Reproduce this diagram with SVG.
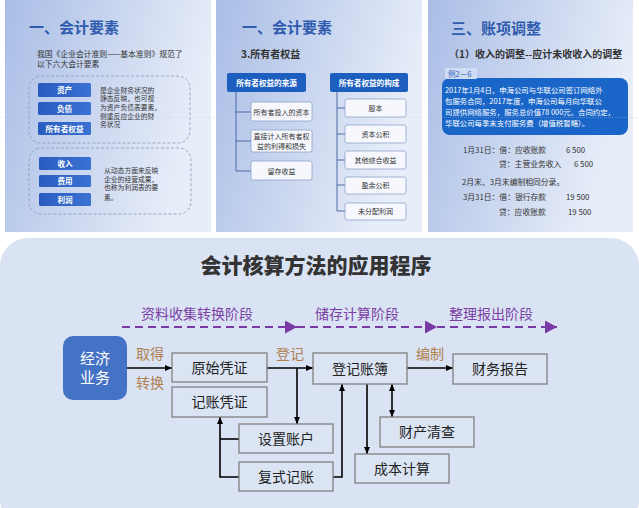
<svg xmlns="http://www.w3.org/2000/svg" width="639" height="508" viewBox="0 0 639 508">
<defs>
<linearGradient id="pg" x1="0" y1="0" x2="1" y2="0.3">
<stop offset="0" stop-color="#a9bde6"/>
<stop offset="0.55" stop-color="#ccd8f0"/>
<stop offset="1" stop-color="#e8eef9"/>
</linearGradient>
<linearGradient id="bg" x1="0" y1="0" x2="1" y2="0">
<stop offset="0" stop-color="#2a5cc0"/>
<stop offset="1" stop-color="#3a72d2"/>
</linearGradient>
<marker id="pa" markerUnits="userSpaceOnUse" markerWidth="13" markerHeight="13" refX="12" refY="6.5" orient="auto">
<path d="M0,0 L12,6.5 L0,13 z" fill="#7a3aa6"/>
</marker>
<marker id="ba" markerUnits="userSpaceOnUse" markerWidth="7" markerHeight="6" refX="7" refY="3" orient="auto-start-reverse">
<path d="M0,0 L7,3 L0,6 z" fill="#000"/>
</marker>
</defs>
<style>
.ptitle{font-family:"Noto Sans CJK SC","Noto Sans",sans-serif;font-weight:700;font-size:15px;fill:#2f5cae}
.sm{font-family:"Noto Sans CJK SC","Noto Sans",sans-serif;font-size:7.8px;fill:#333}
.sd{font-family:"Noto Sans CJK SC","Noto Sans",sans-serif;font-size:6.8px;fill:#333}
.smw{font-family:"Noto Sans CJK SC","Noto Sans",sans-serif;font-size:7.4px;fill:#fff}
.btn{font-family:"Noto Sans CJK SC","Noto Sans",sans-serif;font-size:7.6px;font-weight:700;fill:#fff}
.dash{fill:none;stroke:#8898bc;stroke-width:0.8;stroke-dasharray:3 2}
.hdr{fill:#1c5fbf}
.child{fill:#f6f8fd;stroke:#8ea2c8;stroke-width:0.8}
.ct{font-family:"Noto Sans CJK SC","Noto Sans",sans-serif;font-size:7px;fill:#333}
.tree{fill:none;stroke:#3d5f9a;stroke-width:0.9}
.stage{font-family:"Noto Sans CJK SC","Noto Sans",sans-serif;font-size:14px;fill:#7b3fa4}
.pd{fill:none;stroke:#7a3aa6;stroke-width:2;stroke-dasharray:8 5}
.box{fill:#dbe4f3;stroke:#808080;stroke-width:1.3}
.bt{font-family:"Noto Sans CJK SC","Noto Sans",sans-serif;font-size:14px;fill:#222}
.lbl{font-family:"Noto Sans CJK SC","Noto Sans",sans-serif;font-size:14px;fill:#b0804f}
.con{fill:none;stroke:#000;stroke-width:1.6}
</style>
<rect width="639" height="508" fill="#fff"/>

<!-- top panels -->
<g id="panel-left">
<rect x="5" y="0" width="206" height="232" fill="url(#pg)"/>
<text class="ptitle" x="29" y="33">一、会计要素</text>
<text class="sm" x="37" y="57">我国《企业会计准则——基本准则》规范了<tspan x="37" dy="9.5">以下六大会计要素</tspan></text>
<rect class="dash" x="29" y="76" width="161" height="67" rx="12"/>
<rect x="38" y="83" width="53" height="14" rx="1.5" fill="url(#bg)"/>
<text class="btn" x="64.5" y="93" text-anchor="middle">资产</text>
<rect x="38" y="102" width="53" height="13" rx="1.5" fill="url(#bg)"/>
<text class="btn" x="64.5" y="111.5" text-anchor="middle">负债</text>
<rect x="38" y="122" width="53" height="13" rx="1.5" fill="url(#bg)"/>
<text class="btn" x="64.5" y="131.5" text-anchor="middle">所有者权益</text>
<text class="sd" x="100" y="92.5">是企业财务状况的<tspan x="100" dy="8.7">静态反映，也可视</tspan><tspan x="100" dy="8.7">为资产负债表要素，</tspan><tspan x="100" dy="8.7">侧重反应企业的财</tspan><tspan x="100" dy="8.7">务状况</tspan></text>
<rect class="dash" x="29" y="148" width="162" height="66" rx="12"/>
<rect x="39" y="157" width="52" height="13" rx="1.5" fill="url(#bg)"/>
<text class="btn" x="65" y="166.5" text-anchor="middle">收入</text>
<rect x="39" y="175" width="52" height="12" rx="1.5" fill="url(#bg)"/>
<text class="btn" x="65" y="184" text-anchor="middle">费用</text>
<rect x="39" y="193" width="52" height="13" rx="1.5" fill="url(#bg)"/>
<text class="btn" x="65" y="202.5" text-anchor="middle">利润</text>
<text class="sd" x="104" y="173">从动态方面来反映<tspan x="104" dy="8.6">企业的经营成果，</tspan><tspan x="104" dy="8.6">也称为利润表的要</tspan><tspan x="104" dy="9.4">素。</tspan></text>
</g>

<g id="panel-middle">
<rect x="216" y="0" width="206" height="232" fill="url(#pg)"/>
<text class="ptitle" x="242" y="33">一、会计要素</text>
<text x="241" y="58" style="font-family:'Noto Sans CJK SC',sans-serif;font-size:10px;font-weight:700;fill:#333">3.所有者权益</text>
<rect class="hdr" x="227" y="73" width="79" height="19" rx="2"/>
<text class="btn" x="266.5" y="85.5" text-anchor="middle">所有者权益的来源</text>
<rect class="hdr" x="330" y="73" width="78" height="19" rx="2"/>
<text class="btn" x="369" y="85.5" text-anchor="middle">所有者权益的构成</text>
<path class="tree" d="M236,92 V171 M236,112 H251 M236,141 H251 M236,171 H251"/>
<path class="tree" d="M337,92 V211 M337,108 H345 M337,134 H345 M337,160 H345 M337,185 H345 M337,211 H345"/>
<rect class="child" x="251" y="102" width="61" height="19" rx="2"/>
<text class="ct" x="281.5" y="114.5" text-anchor="middle">所有者投入的资本</text>
<rect class="child" x="251" y="130" width="61" height="22" rx="2"/>
<text class="ct" x="281.5" y="139" text-anchor="middle">直接计入所有者权<tspan x="281.5" dy="10">益的利得和损失</tspan></text>
<rect class="child" x="251" y="161" width="61" height="19" rx="2"/>
<text class="ct" x="281.5" y="173.5" text-anchor="middle">留存收益</text>
<rect class="child" x="345" y="99" width="61" height="18" rx="2"/>
<text class="ct" x="375.5" y="110.5" text-anchor="middle">股本</text>
<rect class="child" x="345" y="125" width="61" height="18" rx="2"/>
<text class="ct" x="375.5" y="136.5" text-anchor="middle">资本公积</text>
<rect class="child" x="345" y="151" width="61" height="18" rx="2"/>
<text class="ct" x="375.5" y="162.5" text-anchor="middle">其他综合收益</text>
<rect class="child" x="345" y="177" width="61" height="17" rx="2"/>
<text class="ct" x="375.5" y="188" text-anchor="middle">盈余公积</text>
<rect class="child" x="345" y="203" width="61" height="17" rx="2"/>
<text class="ct" x="375.5" y="214" text-anchor="middle">未分配利润</text>
</g>

<g id="panel-right">
<rect x="428" y="0" width="205" height="232" fill="url(#pg)"/>
<text class="ptitle" x="451" y="34">三、账项调整</text>
<text x="449" y="58" style="font-family:'Noto Sans CJK SC',sans-serif;font-size:10px;font-weight:700;fill:#333">（1）收入的调整--应计未收收入的调整</text>
<rect x="442" y="78" width="186" height="57" rx="8" fill="#1a66c8"/>
<rect x="445" y="68" width="32" height="11" rx="1" fill="#cfdcf3"/>
<text x="448" y="76.5" style="font-family:'Noto Sans CJK SC',sans-serif;font-size:7.5px;fill:#2a62c0">例2－6</text>
<text class="smw" x="445" y="93">2017年1月4日，申海公司与华联公司签订网络外<tspan x="445" dy="11">包服务合同，2017年度，申海公司每月向华联公</tspan><tspan x="445" dy="11">司提供网络服务，服务总价值78 000元。合同约定，</tspan><tspan x="445" dy="11">华联公司每季末支付服务费（增值税暂略）。</tspan></text>
<text class="sm" x="463" y="153">1月31日：借：应收账款</text>
<text class="sm" x="566" y="153">6 500</text>
<text class="sm" x="499" y="167">贷：主营业务收入</text>
<text class="sm" x="574" y="167">6 500</text>
<text class="sm" x="462" y="185">2月末、3月末编制相同分录。</text>
<text class="sm" x="463" y="200">3月31日：借：银行存款</text>
<text class="sm" x="566" y="200">19 500</text>
<text class="sm" x="499" y="215">贷：应收账款</text>
<text class="sm" x="568" y="215">19 500</text>
</g>
<line x1="0" y1="117.5" x2="639" y2="117.5" stroke="#c4c8d4" stroke-width="0.6" stroke-dasharray="1 1" opacity="0.6"/>

<!-- bottom panel -->
<rect x="0" y="238" width="639" height="290" rx="28" fill="#d9e3f3"/>
<text x="316" y="273" text-anchor="middle" style="font-family:'Noto Sans CJK SC',sans-serif;font-size:21px;font-weight:900;fill:#333">会计核算方法的应用程序</text>

<g id="stages">
<text class="stage" x="197" y="319" text-anchor="middle">资料收集转换阶段</text>
<text class="stage" x="357" y="319" text-anchor="middle">储存计算阶段</text>
<text class="stage" x="491" y="319" text-anchor="middle">整理报出阶段</text>
</g>

<g id="connectors">
<line class="pd" x1="122" y1="327" x2="297" y2="327" marker-end="url(#pa)"/>
<line class="pd" x1="297" y1="327" x2="437" y2="327" marker-end="url(#pa)"/>
<line class="pd" x1="437" y1="327" x2="557" y2="327" marker-end="url(#pa)"/>
<line class="con" x1="127" y1="368" x2="172" y2="368" marker-end="url(#ba)"/>
<line class="con" x1="267" y1="368" x2="313" y2="368" marker-end="url(#ba)"/>
<line class="con" x1="297" y1="368" x2="297" y2="424" marker-end="url(#ba)"/>
<line class="con" x1="407" y1="368" x2="453" y2="368" marker-end="url(#ba)"/>
<polyline class="con" points="239,439 220,439"/>
<polyline class="con" points="239,477 220,477 220,417" marker-end="url(#ba)"/>
<polyline class="con" points="333,477 342,477 342,384" marker-end="url(#ba)"/>
<line class="con" x1="367" y1="384" x2="367" y2="454" marker-end="url(#ba)"/>
<line class="con" x1="392" y1="384" x2="392" y2="417" marker-start="url(#ba)" marker-end="url(#ba)"/>
<text class="lbl" x="150" y="359" text-anchor="middle">取得</text>
<text class="lbl" x="150" y="388" text-anchor="middle">转换</text>
<text class="lbl" x="290" y="359" text-anchor="middle">登记</text>
<text class="lbl" x="430" y="359" text-anchor="middle">编制</text>
</g>

<g id="n-jingji">
<rect x="63" y="336" width="64" height="64" rx="10" fill="#4472c4"/>
<text x="95" y="364" text-anchor="middle" style="font-family:'Noto Sans CJK SC',sans-serif;font-size:15px;fill:#fff">经济<tspan x="95" dy="19">业务</tspan></text>
</g>
<g id="n-yuanshi"><rect class="box" x="172" y="353" width="95" height="29"/><text class="bt" x="219.5" y="372.5" text-anchor="middle">原始凭证</text></g>
<g id="n-jizhang"><rect class="box" x="172" y="387" width="95" height="30"/><text class="bt" x="219.5" y="407" text-anchor="middle">记账凭证</text></g>
<g id="n-dengji"><rect class="box" x="313" y="353" width="94" height="31"/><text class="bt" x="360" y="373.5" text-anchor="middle">登记账簿</text></g>
<g id="n-caiwu"><rect class="box" x="453" y="354" width="94" height="30"/><text class="bt" x="500" y="374" text-anchor="middle">财务报告</text></g>
<g id="n-shezhi"><rect class="box" x="239" y="424" width="94" height="29"/><text class="bt" x="286" y="443.5" text-anchor="middle">设置账户</text></g>
<g id="n-fushi"><rect class="box" x="239" y="462" width="94" height="29"/><text class="bt" x="286" y="481.5" text-anchor="middle">复式记账</text></g>
<g id="n-caichan"><rect class="box" x="380" y="417" width="94" height="30"/><text class="bt" x="427" y="437" text-anchor="middle">财产清查</text></g>
<g id="n-chengben"><rect class="box" x="355" y="454" width="94" height="29"/><text class="bt" x="402" y="473.5" text-anchor="middle">成本计算</text></g>
</svg>
